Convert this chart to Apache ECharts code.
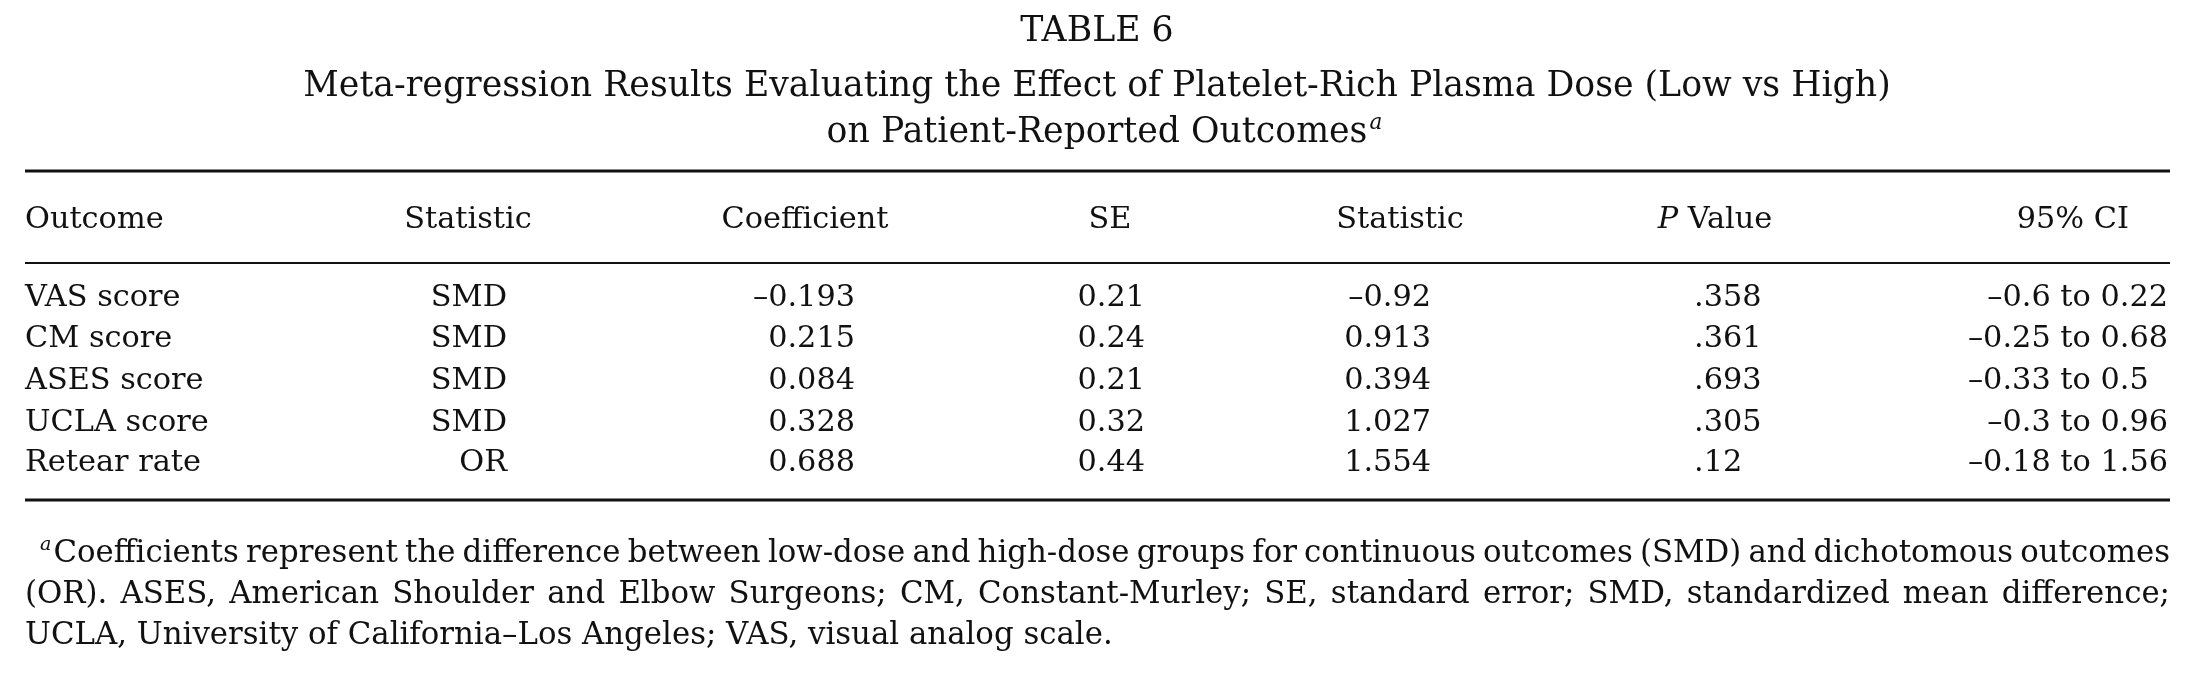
<!DOCTYPE html>
<html>
<head>
<meta charset="utf-8">
<script src="https://cdn.jsdelivr.net/npm/echarts@6/dist/echarts.min.js"></script>
<style>
html,body{margin:0;padding:0;background:#fff;}
#chart{width:2195px;height:674px;}
</style>
</head>
<body>
<div id="chart"></div>
<script>
// ---- data ----
const titleLines = ['TABLE 6', 'Meta-regression Results Evaluating the Effect of Platelet-Rich Plasma Dose (Low vs High)', 'on Patient-Reported Outcomes'];
const headers = ['Outcome', 'Statistic', 'Coefficient', 'SE', 'Statistic', 'P Value', '95% CI'];
const outcomes = ['VAS score', 'CM score', 'ASES score', 'UCLA score', 'Retear rate'];
const statisticType = ['SMD', 'SMD', 'SMD', 'SMD', 'OR'];
const coefficient = ['–0.193', '0.215', '0.084', '0.328', '0.688'];
const se = ['0.21', '0.24', '0.21', '0.32', '0.44'];
const statValue = ['–0.92', '0.913', '0.394', '1.027', '1.554'];
const pValue = ['.358', '.361', '.693', '.305', '.12'];
const ciLow = ['–0.6', '–0.25', '–0.33', '–0.3', '–0.18'];
const ciHigh = ['0.22', '0.68', '0.5', '0.96', '1.56'];
const footnoteLines = [
  'Coefficients represent the difference between low-dose and high-dose groups for continuous outcomes (SMD) and dichotomous outcomes',
  '(OR). ASES, American Shoulder and Elbow Surgeons; CM, Constant-Murley; SE, standard error; SMD, standardized mean difference;',
  'UCLA, University of California–Los Angeles; VAS, visual analog scale.'
];

// ---- layout ----
const FAMILY = '"DejaVu Serif", serif';
const INK = '#111';
const canvas = document.createElement('canvas');
const ctx = canvas.getContext('2d');
function measure(text, size, style) {
  ctx.font = (style || '') + ' ' + size + 'px ' + FAMILY;
  return ctx.measureText(text).width;
}
function fitSize(text, target) { return 100 * target / measure(text, 100); }

const LEFT = 25, RIGHT = 2170;
const titleSize = fitSize(titleLines[1], 1588);
const bodySize = fitSize('Retear rate', 176);
// footnote: compromise between the natural width of line 1 and line 3
let fit1 = 26;
for (let k = 0; k < 4; k++) {
  const sw = measure('a', fit1 * 0.62, 'italic');
  fit1 = fitSize(footnoteLines[0], RIGHT - (40 + sw + 2));
}
const fit3 = fitSize(footnoteLines[2], 1099);
const footSize = Math.min(fit3, fit1 * 0.35 + fit3 * 0.65);

const titleY = [32, 87, 133];
const headerY = 220;
const rowY = [298, 339, 381, 423, 463];
const footY = [554, 595, 636];

const g = [];
function txt(x, y, text, size, align, extra) {
  const s = Object.assign({ text: text, font: size + 'px ' + FAMILY, fill: INK, align: align, textAlign: align, verticalAlign: 'middle', textVerticalAlign: 'middle' }, extra || {});
  g.push({ type: 'text', x: x, y: y, style: s, silent: true });
}
function hline(y, w) {
  g.push({ type: 'line', shape: { x1: LEFT, y1: y, x2: RIGHT, y2: y }, style: { stroke: INK, lineWidth: w }, silent: true });
}

// title
titleLines.forEach((t, i) => txt(1097, titleY[i], t, titleSize, 'center'));
const t3w = measure(titleLines[2], titleSize);
txt(1097 + t3w / 2 + 2, titleY[2] - 10, 'a', titleSize * 0.62, 'left', { font: 'italic ' + (titleSize * 0.62) + 'px ' + FAMILY });

hline(171, 3);
// headers
const headerX = [LEFT, 468, 805, 1110, 1400, 1715, 2129];
const headerAlign = ['left', 'center', 'center', 'center', 'center', 'center', 'right'];
headers.forEach((h, i) => {
  if (h === 'P Value') {
    const pw = measure('P', bodySize, 'italic');
    const vw = measure(' Value', bodySize);
    const x0 = headerX[i] - (pw + vw) / 2;
    txt(x0, headerY, 'P', bodySize, 'left', { font: 'italic ' + bodySize + 'px ' + FAMILY });
    txt(x0 + pw, headerY, ' Value', bodySize, 'left');
  } else {
    txt(headerX[i], headerY, h, bodySize, headerAlign[i]);
  }
});
hline(263, 2);

// rows
const digitW = measure('0', bodySize);
outcomes.forEach((o, r) => {
  const y = rowY[r];
  txt(LEFT, y, o, bodySize, 'left');
  txt(507, y, statisticType[r], bodySize, 'right');
  txt(855, y, coefficient[r], bodySize, 'right');
  txt(1145, y, se[r], bodySize, 'right');
  txt(1431, y, statValue[r], bodySize, 'right');
  txt(1694, y, pValue[r], bodySize, 'left');
  const hi = ciHigh[r];
  const pad = hi.length < 4 ? digitW * (4 - hi.length) : 0;
  txt(2168 - pad, y, ciLow[r] + ' to ' + hi, bodySize, 'right');
});
hline(500, 3);

// footnote (justified lines 1 and 2)
const supSize = footSize * 0.62;
txt(40, footY[0] - 9, 'a', supSize, 'left', { font: 'italic ' + supSize + 'px ' + FAMILY });
const supW = measure('a', supSize, 'italic');
function justify(line, x0, x1, y) {
  const words = line.split(' ');
  const total = words.reduce((s, w) => s + measure(w, footSize), 0);
  const gap = (x1 - x0 - total) / (words.length - 1);
  let x = x0;
  words.forEach(w => { txt(x, y, w, footSize, 'left'); x += measure(w, footSize) + gap; });
}
justify(footnoteLines[0], 40 + supW + 2, RIGHT, footY[0]);
justify(footnoteLines[1], LEFT, RIGHT, footY[1]);
txt(LEFT, footY[2], footnoteLines[2], footSize, 'left');

const chart = echarts.init(document.getElementById('chart'));
chart.setOption({ backgroundColor: '#fff', animation: false, graphic: { elements: g } });
</script>
</body>
</html>
